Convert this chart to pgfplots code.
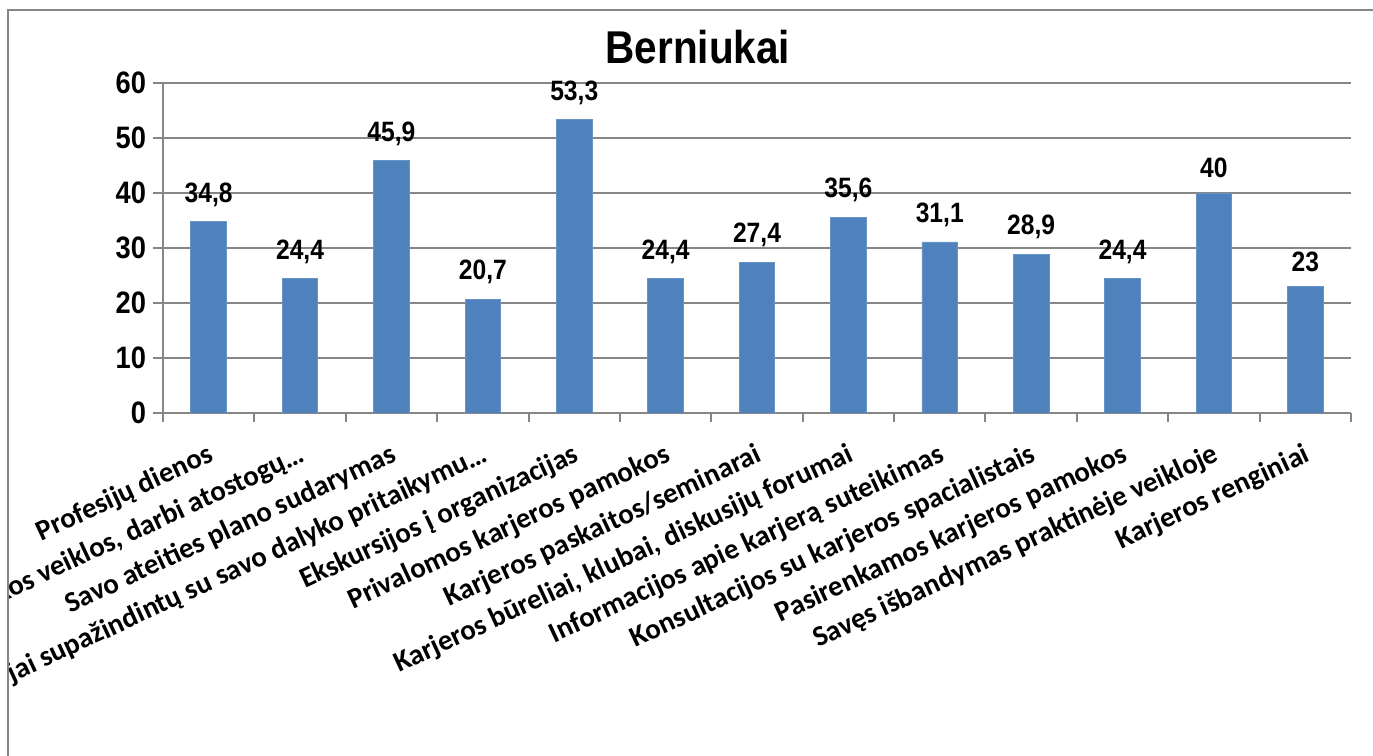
\documentclass[border=0pt]{standalone}
\usepackage{fontspec}
\setmainfont{Liberation Sans}
\newfontfamily\narrow{Liberation Sans}[FakeStretch=0.88]
\newfontfamily\calib{Carlito}
\usepackage{pgfplots}
\pgfplotsset{compat=1.18}
\definecolor{barblue}{HTML}{4F81BD}
\definecolor{gridgray}{HTML}{868686}

\begin{document}
\begin{tikzpicture}
\useasboundingbox (0,0) rectangle (686.5bp,378bp);
\begin{scope}
\clip (4bp,0) rectangle (686.5bp,373bp);
\begin{axis}[
    at={(81.5bp,171.5bp)}, anchor=south west,
    width=594bp, height=165bp, scale only axis,
    xmin=-0.5, xmax=12.5, ymin=0, ymax=60,
    ybar, bar width=0.39,
    axis lines*=left,
    axis line style={gridgray, line width=1bp, -},
    ytick={0,10,...,60},
    ymajorgrids,
    grid style={gridgray, line width=1bp},
    tick align=outside,
    major tick length=5bp,
    minor tick length=4.5bp,
    tick style={gridgray, line width=1bp},
    xtick={0,...,12},
    major x tick style={draw=none},
    minor xtick={-0.5,0.5,...,12.5},
    xticklabels={
        Profesijų dienos,
        {Savanoriškos veiklos, darbi atostogų…},
        Savo ateities plano sudarymas,
        Mokytojai supažindintų su savo dalyko pritaikymu…,
        Ekskursijos į organizacijas,
        Privalomos karjeros pamokos,
        Karjeros paskaitos/seminarai,
        {Karjeros būreliai, klubai, diskusijų forumai},
        Informacijos apie karjerą suteikimas,
        Konsultacijos su karjeros spacialistais,
        Pasirenkamos karjeros pamokos,
        Savęs išbandymas praktinėje veikloje,
        Karjeros renginiai},
    xticklabel style={rotate=25, anchor=north east, inner sep=0pt,
        yshift=-8bp, xshift=-5bp,
        font=\calib\bfseries\fontsize{14.4bp}{16bp}\selectfont},
    yticklabel style={font=\narrow\bfseries\fontsize{15.5bp}{17bp}\selectfont},
    /pgf/number format/assume math mode=true,
    /pgf/number format/use comma,
    title={Berniukai},
    title style={at={(0.4503,1)}, anchor=base, yshift=4bp, inner sep=0pt,
        font=\narrow\bfseries\fontsize{23bp}{27bp}\selectfont},
    nodes near coords,
    every node near coord/.append style={yshift=4bp, black,
        font=\narrow\bfseries\fontsize{14bp}{16bp}\selectfont},
]
\addplot[fill=barblue, draw=barblue!85!white] coordinates {
    (0,34.8) (1,24.4) (2,45.9) (3,20.7) (4,53.3) (5,24.4) (6,27.4)
    (7,35.6) (8,31.1) (9,28.9) (10,24.4) (11,40) (12,23)};
\end{axis}
\end{scope}
\draw[gridgray, line width=1bp] (4bp,0) -- (4bp,373bp) -- (686.5bp,373bp);
\end{tikzpicture}
\end{document}
